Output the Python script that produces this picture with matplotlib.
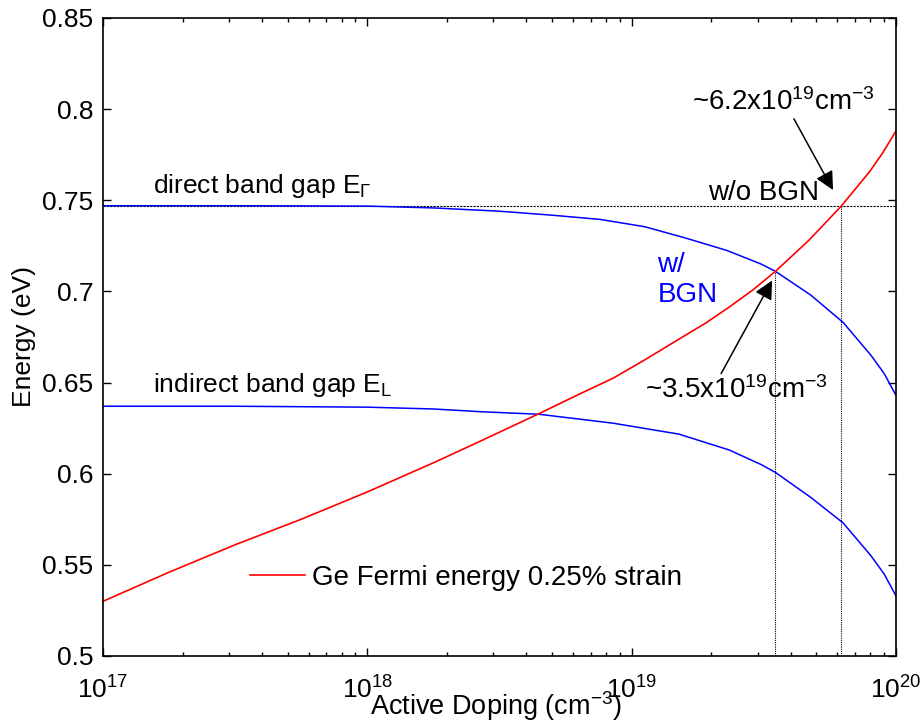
import matplotlib
matplotlib.use("Agg")
import matplotlib.pyplot as plt
from matplotlib.ticker import FixedLocator, FormatStrFormatter, LogLocator, NullFormatter

plt.rcParams['font.family'] = ['Liberation Sans', 'DejaVu Sans']
plt.rcParams['mathtext.fontset'] = 'custom'
plt.rcParams['mathtext.rm'] = 'Liberation Sans'
plt.rcParams['mathtext.it'] = 'Liberation Sans'
plt.rcParams['mathtext.default'] = 'rm'

# Fermi energy of 0.25% strained Ge vs active doping (cm^-3)
fermi_doping = [1e17, 1.78e17, 3.16e17, 5.62e17, 1e18, 1.78e18, 2.69e18, 4.47e18,
                6.31e18, 8.51e18, 1.12e19, 1.51e19, 1.91e19, 2.34e19, 2.88e19,
                3.5e19, 4.68e19, 6.2e19, 7.94e19, 8.91e19, 1e20]
fermi_energy = [0.530, 0.546, 0.561, 0.575, 0.590, 0.606, 0.618, 0.633,
                0.6435, 0.6524, 0.6624, 0.6738, 0.6827, 0.6914, 0.7009,
                0.711, 0.728, 0.7467, 0.7656, 0.776, 0.788]

# direct band gap with band gap narrowing (BGN)
direct_doping = [1e17, 3.16e17, 1e18, 1.78e18, 3.16e18, 5.01e18, 7.59e18, 1.12e19,
                 1.58e19, 2.29e19, 3.09e19, 3.5e19, 4.76e19, 6.31e19, 8.04e19,
                 9.02e19, 1e20]
direct_gap = [0.747, 0.747, 0.7468, 0.7458, 0.744, 0.7418, 0.7395, 0.7355,
              0.7295, 0.7225, 0.715, 0.711, 0.698, 0.683, 0.665,
              0.655, 0.643]

# indirect band gap with BGN
indirect_doping = [1e17, 3.16e17, 1e18, 1.78e18, 2.69e18, 4.47e18, 8.51e18, 1.51e19,
                   2.34e19, 3.09e19, 3.5e19, 4.76e19, 6.31e19, 8.04e19, 9.02e19, 1e20]
indirect_gap = [0.637, 0.637, 0.6365, 0.6355, 0.634, 0.6326, 0.6277, 0.6217,
                0.613, 0.605, 0.6007, 0.587, 0.573, 0.555, 0.545, 0.533]

# direct gap without BGN and the crossing points with the Fermi energy
direct_gap_nobgn = 0.7467
cross_doping = [3.5e19, 6.2e19]
cross_energy = [0.711, 0.7467]

y_ticks = [0.5, 0.55, 0.6, 0.65, 0.7, 0.75, 0.8, 0.85]
x_ticks = [1e17, 1e18, 1e19, 1e20]
x_tick_labels = [r'$10^{17}$', r'$10^{18}$', r'$10^{19}$', r'$10^{20}$']

fs = 19
fig = plt.figure(figsize=(9.23, 7.25), dpi=100)
ax = fig.add_axes([0.1116, 0.0952, 0.8591, 0.8800])

ax.axhline(direct_gap_nobgn, color='k', lw=0.8, ls=(0, (2, 1)))
ax.vlines(cross_doping, 0.5, cross_energy, colors='k', lw=0.8, linestyles=(0, (1, 1)))
ax.semilogx(direct_doping, direct_gap, color='b', lw=1.1)
ax.semilogx(indirect_doping, indirect_gap, color='b', lw=1.1)
ax.semilogx(fermi_doping, fermi_energy, color='r', lw=1.2,
            label='Ge Fermi energy 0.25% strain')

ax.set_xlim(1e17, 1e20)
ax.set_ylim(0.5, 0.85)
ax.yaxis.set_major_locator(FixedLocator(y_ticks))
ax.yaxis.set_major_formatter(FormatStrFormatter('%g'))
ax.set_xticks(x_ticks)
ax.set_xticklabels(x_tick_labels)
ax.xaxis.set_minor_locator(LogLocator(base=10, subs=range(2, 10)))
ax.xaxis.set_minor_formatter(NullFormatter())
ax.tick_params(which='both', direction='in', top=True, right=True, labelsize=fs, width=1)
ax.tick_params(which='major', length=6)
ax.tick_params(which='minor', length=3)
ax.tick_params(axis='y', pad=7)
ax.tick_params(axis='x', pad=15)
for s in ax.spines.values():
    s.set_linewidth(1.2)

ax.set_ylabel('Energy (eV)', fontsize=fs, labelpad=4)
ax.set_xlabel(r'Active Doping (cm$^{-3}$)', fontsize=19.5)
ax.xaxis.label.set_va('baseline')
ax.xaxis.set_label_coords(0.496, -0.0925)

ax.text(1.55e17, 0.754, r'direct band gap E$_{\Gamma}$', fontsize=fs)
ax.text(1.55e17, 0.6447, r'indirect band gap E$_{L}$', fontsize=fs)
ax.text(1.95e19, 0.750, 'w/o BGN', fontsize=20)
ax.text(1.25e19, 0.7106, 'w/', fontsize=20, color='b')
ax.text(1.25e19, 0.694, 'BGN', fontsize=20, color='b')

ax.annotate(r'~6.2x10$^{19}$cm$^{-3}$', xy=(5.78e19, 0.7556), xytext=(1.69e19, 0.7995),
            fontsize=20, va='baseline',
            arrowprops=dict(arrowstyle='-|>', color='k', lw=1.1, mutation_scale=28,
                            shrinkA=0, shrinkB=0, relpos=(0.55, 0)))
ax.annotate(r'~3.5x10$^{19}$cm$^{-3}$', xy=(3.4e19, 0.706), xytext=(1.12e19, 0.6414),
            fontsize=20, va='baseline',
            arrowprops=dict(arrowstyle='-|>', color='k', lw=1.1, mutation_scale=28,
                            shrinkA=0, shrinkB=0, relpos=(0.41, 1.0)))

ax.legend(loc='center left', bbox_to_anchor=(0.185, 0.122), frameon=False, fontsize=20,
          handlelength=2.0, handletextpad=0.25, borderpad=0, borderaxespad=0)

fig.savefig('out.png', dpi=100)
